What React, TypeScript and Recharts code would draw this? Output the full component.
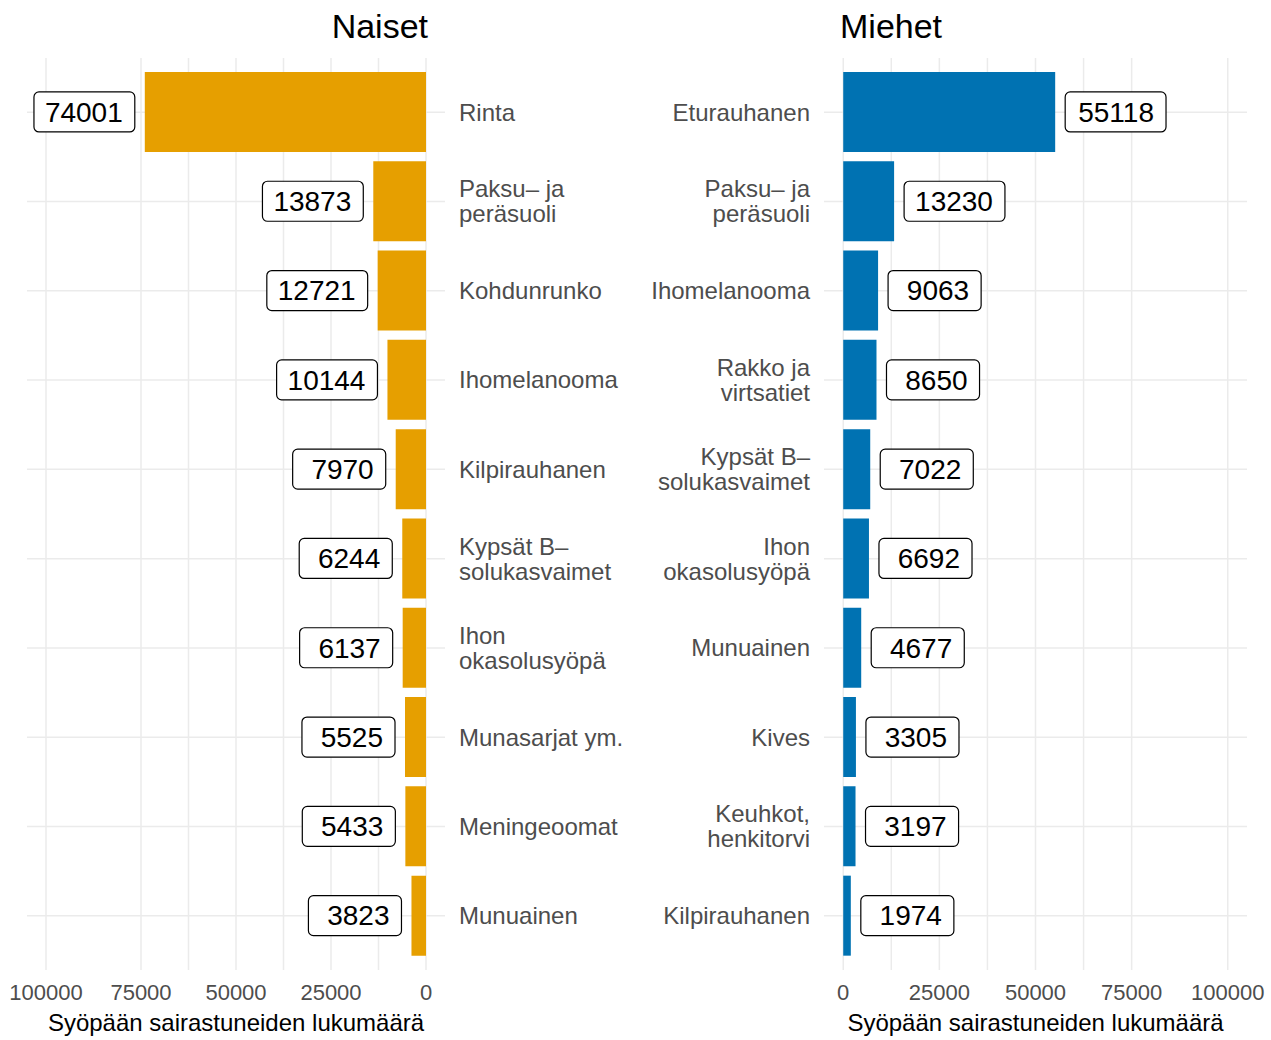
import React from 'react';
import { BarChart, Bar, XAxis, YAxis, CartesianGrid, LabelList } from 'recharts';

const naisetNimet = [
  'Rinta', 'Paksu– ja\nperäsuoli', 'Kohdunrunko', 'Ihomelanooma', 'Kilpirauhanen',
  'Kypsät B–\nsolukasvaimet', 'Ihon\nokasolusyöpä', 'Munasarjat ym.', 'Meningeoomat', 'Munuainen',
];
const naisetArvot = [74001, 13873, 12721, 10144, 7970, 6244, 6137, 5525, 5433, 3823];

const miehetNimet = [
  'Eturauhanen', 'Paksu– ja\nperäsuoli', 'Ihomelanooma', 'Rakko ja\nvirtsatiet',
  'Kypsät B–\nsolukasvaimet', 'Ihon\nokasolusyöpä', 'Munuainen', 'Kives',
  'Keuhkot,\nhenkitorvi', 'Kilpirauhanen',
];
const miehetArvot = [55118, 13230, 9063, 8650, 7022, 6692, 4677, 3305, 3197, 1974];

const xTicks = [0, 25000, 50000, 75000, 100000];
const gridTicks = [0, 12500, 25000, 37500, 50000, 62500, 75000, 87500, 100000];
const xDomain: [number, number] = [-5000, 105000];

const naisetData = naisetNimet.map((name, i) => ({ name, value: naisetArvot[i] }));
const miehetData = miehetNimet.map((name, i) => ({ name, value: miehetArvot[i] }));

const FONT = '"Liberation Sans", Arial, Helvetica, sans-serif';
const GRID = '#EBEBEB';

const makeCatTick = (anchor: 'start' | 'end') => (props: any) => {
  const { x, y, payload } = props;
  const lines = String(payload.value).split('\n');
  const lh = 25;
  const start = y - ((lines.length - 1) * lh) / 2;
  return (
    <text textAnchor={anchor} fontSize={24} fill="#4D4D4D" fontFamily={FONT}>
      {lines.map((l, i) => (
        <tspan key={i} x={x} y={start + i * lh} dy="0.35em">{l}</tspan>
      ))}
    </text>
  );
};

const makeValueLabel = (side: 'left' | 'right') => (props: any) => {
  const { x, y, width, height, value } = props;
  const a = Number(x);
  const w = Number(width);
  const end = side === 'left' ? Math.min(a, a + w) : Math.max(a, a + w);
  const cy = Number(y) + Number(height) / 2;
  const txt = String(value).padStart(5, ' ');
  const fs = 28;
  const tw = [...txt].reduce((s, c) => s + (c === ' ' ? 0.278 : 0.556), 0) * fs;
  const bw = tw + 23;
  const bh = 40;
  const bx = side === 'left' ? end - 10 - bw : end + 10;
  return (
    <g>
      <rect x={bx} y={cy - bh / 2} width={bw} height={bh} rx={5} ry={5}
        fill="#fff" stroke="#000" strokeWidth={1.2} />
      <text x={bx + bw - 12} y={cy} dy="0.35em" textAnchor="end" fontSize={fs}
        fill="#000" fontFamily={FONT}>{value}</text>
    </g>
  );
};

const tickStyle = { fontSize: 22, fill: '#4D4D4D', fontFamily: FONT };
const axisTitle = 'Syöpään sairastuneiden lukumäärä';

export default function App() {
  return (
    <div style={{ position: 'absolute', left: 0, top: 0, width: 1271, height: 1040, background: '#fff', fontFamily: FONT }}>
      <div style={{ position: 'absolute', left: 0, top: 9, width: 428, textAlign: 'right', fontSize: 34, lineHeight: '34px', color: '#000' }}>
        Naiset
      </div>
      <div style={{ position: 'absolute', left: 840, top: 9, fontSize: 34, lineHeight: '34px', color: '#000' }}>
        Miehet
      </div>

      <div style={{ position: 'absolute', left: 0, top: 0 }}>
        <BarChart width={640} height={1040} data={naisetData} layout="vertical"
          margin={{ top: 58, right: 15, bottom: 0, left: 27 }} barCategoryGap="5%">
          <CartesianGrid xAxisId="grid" stroke={GRID} strokeWidth={1.5} syncWithTicks />
          <XAxis xAxisId="grid" type="number" domain={xDomain} ticks={gridTicks}
            reversed allowDataOverflow hide />
          <XAxis type="number" domain={xDomain} ticks={xTicks} reversed allowDataOverflow
            height={70} tickLine={false} axisLine={false} tickSize={0} tickMargin={14}
            tick={tickStyle} interval={0}
            label={{ value: axisTitle, position: 'insideBottom', offset: 9, fontSize: 24, fill: '#000', fontFamily: FONT }} />
          <YAxis type="category" dataKey="name" orientation="right" width={180}
            tickLine={false} axisLine={false} tickSize={0} tickMargin={14} interval={0}
            padding={{ top: 9.5, bottom: 9.5 }} tick={makeCatTick('start')} />
          <Bar dataKey="value" fill="#E69F00" isAnimationActive={false}>
            <LabelList dataKey="value" content={makeValueLabel('left')} />
          </Bar>
        </BarChart>
      </div>

      <div style={{ position: 'absolute', left: 640, top: 0 }}>
        <BarChart width={631} height={1040} data={miehetData} layout="vertical"
          margin={{ top: 58, right: 24, bottom: 0, left: 0 }} barCategoryGap="5%">
          <CartesianGrid xAxisId="grid" stroke={GRID} strokeWidth={1.5} syncWithTicks />
          <XAxis xAxisId="grid" type="number" domain={xDomain} ticks={gridTicks}
            allowDataOverflow hide />
          <XAxis type="number" domain={xDomain} ticks={xTicks} allowDataOverflow
            height={70} tickLine={false} axisLine={false} tickSize={0} tickMargin={14}
            tick={tickStyle} interval={0}
            label={{ value: axisTitle, position: 'insideBottom', offset: 9, fontSize: 24, fill: '#000', fontFamily: FONT }} />
          <YAxis type="category" dataKey="name" orientation="left" width={184}
            tickLine={false} axisLine={false} tickSize={0} tickMargin={14} interval={0}
            padding={{ top: 9.5, bottom: 9.5 }} tick={makeCatTick('end')} />
          <Bar dataKey="value" fill="#0072B2" isAnimationActive={false}>
            <LabelList dataKey="value" content={makeValueLabel('right')} />
          </Bar>
        </BarChart>
      </div>
    </div>
  );
}
